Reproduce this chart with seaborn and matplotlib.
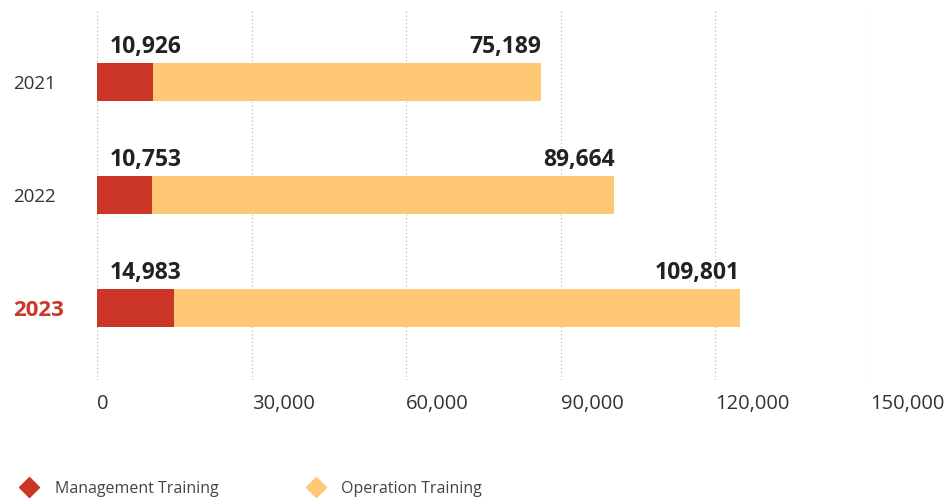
import pandas as pd
import matplotlib.pyplot as plt
import seaborn as sns
from matplotlib.lines import Line2D

# Chart data
years = ['2021', '2022', '2023']
management = [10926, 10753, 14983]
operation = [75189, 89664, 109801]
x_ticks = [0, 30000, 60000, 90000, 120000, 150000]

red = '#CB3629'
orange = '#FEC874'

df = pd.DataFrame({'Year': years, 'Management': management, 'Operation': operation})
df['Total'] = df['Management'] + df['Operation']

sns.set_style('white')
plt.rcParams['font.family'] = ['Open Sans', 'DejaVu Sans']

fig = plt.figure(figsize=(9.46, 4.98), dpi=100)
ax = fig.add_axes([97 / 946, 1 - 380 / 498, 773 / 946, 370 / 498])

# Stacked bars: total in orange, management on top in red
sns.barplot(data=df, y='Year', x='Total', color=orange, width=0.336,
            saturation=1, ax=ax, orient='h', zorder=3, linewidth=0)
sns.barplot(data=df, y='Year', x='Management', color=red, width=0.336,
            saturation=1, ax=ax, orient='h', zorder=4, linewidth=0)

ax.set_xlim(0, 150000)
ax.set_ylim(2.637, -0.637)
ax.set_xticks(x_ticks)
ax.set_xticklabels([f'{t:,}' for t in x_ticks], ha='left')
ax.set_xlabel('')
ax.set_ylabel('')
ax.grid(axis='x', linestyle=(0, (1, 2)), color='#BBBBBB', linewidth=0.9, zorder=0)
ax.grid(axis='y', visible=False)
for s in ax.spines.values():
    s.set_visible(False)
ax.tick_params(axis='x', length=0, pad=10, labelsize=14.5, labelcolor='#333333')
ax.tick_params(axis='y', length=0, pad=60.5, labelsize=13.5, labelcolor='#333333')
for lab in ax.get_yticklabels():
    lab.set_horizontalalignment('left')
    if lab.get_text() == '2023':
        lab.set_color(red)
        lab.set_fontweight('bold')
        lab.set_fontsize(16)

# Value labels
for i, row in df.iterrows():
    ax.text(2500, i - 0.258, f"{row['Management']:,}",
            ha='left', va='baseline', fontsize=16.5, fontweight='bold', color='#222222')
    ax.text(row['Total'], i - 0.258, f"{row['Operation']:,}",
            ha='right', va='baseline', fontsize=16.5, fontweight='bold', color='#222222')

handles = [
    Line2D([], [], marker='D', linestyle='', color=red, markersize=10),
    Line2D([], [], marker='D', linestyle='', color=orange, markersize=10),
]
fig.legend(handles, ['Management Training', 'Operation Training'],
           loc='center left', bbox_to_anchor=(21 / 946, 1 - 489 / 498),
           ncol=2, frameon=False, fontsize=11.5, handlelength=1.0,
           handletextpad=1.1, columnspacing=5.6, borderpad=0,
           borderaxespad=0, labelcolor='#444444')

fig.savefig('out.png', dpi=100)
